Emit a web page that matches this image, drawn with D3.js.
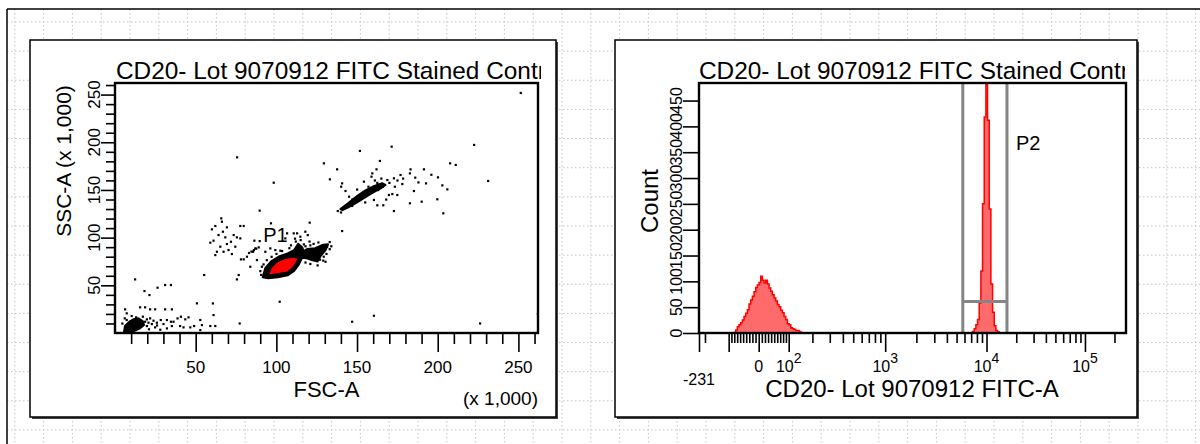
<!DOCTYPE html>
<html><head><meta charset="utf-8">
<script src="https://cdn.jsdelivr.net/npm/d3@7"></script>
<style>
body{margin:0;background:#fff;}
text{font-family:"Liberation Sans",Arial,sans-serif;fill:#000;}
</style>
</head><body>
<svg id="c" width="1200" height="444"></svg>
<script>
// ---------------- DATA ----------------
const chartTitle = "CD20- Lot 9070912 FITC Stained Control";
const fscLabel = "FSC-A";
const sscLabel = "SSC-A (x 1,000)";
const unitLabel = "(x 1,000)";
const fitcLabel = "CD20- Lot 9070912 FITC-A";
const countLabel = "Count";

// scatter (values in thousands)
const scatterMax = 262.144;
const scatterMajorTicks = [50, 100, 150, 200, 250];
const scatterMinorTicks = [10,20,30,40,60,70,80,90,110,120,130,140,160,170,180,190,210,220,230,240,260];
const scatterTickLabels = ["50", "100", "150", "200", "250"];

const sparseEvents = [
 [75.6,184.3],[98.3,157.7],[129.4,178],[137.6,171.7],[133.1,161.2],[151.7,191],[171.4,195.5],[164.1,180.5],
 [222.5,197.3],[207.6,178],[211.1,176.3],[231.2,159.5],[140.7,157],[140.1,153.5],[142.8,149],[154.2,158.8],
 [159.4,167.5],[162,171.7],[158.9,164],[168.7,160.5],[172.8,162.3],[176.9,165.8],[183.1,171.7],[182.7,167.5],
 [178,156.3],[173.4,153.5],[171.8,145.8],[169.7,144.8],[174.9,144.8],[185.2,149],[191.4,171.7],[192.7,157],
 [200.1,163.3],[202.8,154.9],[205.9,150.7],[199.7,140.3],[203.4,125.6],[190,137.8],[182.7,136.1],[172.8,128],
 [166.2,134],[162.5,134],[146.9,133.3],[143.8,131.9],[142.2,130.8],[160.4,139.6],[156.3,144.8],
 [163,150],[166,153.5],[170,157.5],[175,160],[178.5,162],[186,163],[188,158],[196,166],[150,150.5],[152,145],
 [147,140],[145,143],[161,160],[165,162],[155,137],[168,140],[138,128],[140,126.5],[157,153.5],[162.5,157.5],
 [65.8,120.3],[66.2,116.8],[62.1,112.3],[60,108.8],[69.3,110.9],[73.5,102.8],[77.6,112.3],[79.7,112.3],
 [75.5,100.4],[71.8,95.8],[69.3,93.4],[65.2,90.6],[63.1,85.3],[62.1,81.8],[67.2,85.3],[70.3,87.1],[72.4,82.9],
 [74.5,90.6],[77.6,99.3],[61,96.9],[64.1,102.8],[68.3,100.4],[66.8,106.3],[59,94.8],[55.2,60.9],[76.6,60.9],
 [75.5,56.3],[78,77.3],[79.7,77.3],[81.7,80.1],[85.5,85.3],[86.9,88.8],[89.6,96.5],[86.3,96.9],[89.6,128.4],
 [96.6,115.1],[102,32.9],[77.2,10.1],[60.6,31.1],[61,18.9],[140.7,107],[146.9,11.9],[160.4,18.2],[226.2,10.1],
 [83.8,69.6],[87.9,76.6],[91,69.6],[93.1,85.3],[96.2,88.8],[99.3,87.1],[102.4,86.4],[105.5,99.3],[110.7,104.6],
 [114.8,101.1],[119.4,102.8],[120.6,115.8],[117.9,106.3],[106.6,104.6],[112.8,104.6],[124.1,83.6],[129.3,80.1],
 [131.4,90.6],[130.4,74.8],[83,84],[84.5,85.5],[86,87],[87.5,88.5],[89,89.9],
 [118,91],[121,92],[126,95],[123,93.5],[128,84],[131,83],[133,88],[127,77],[124,78],[120,80.5],[117,93],
 [112,96],[109,92],[108,89],[103.5,86],[100,83],[97,80],[94,76.5],[92,72],[90,65],[90.5,61],[118,74],
 [121,72.5],[125.5,71],[129,76],[134,91],[133,95.5],[115,97.5],[120.5,96],[111.5,99],
 [12.4,56.3],[18.2,44.1],[21.3,39.9],[26.3,47.6],[31,50.4],[34.6,50.4],[15.5,27],[18.6,27],[21.7,24.9],
 [24.8,24.9],[31,24.9],[35.2,24.9],[6.2,24.9],[7.2,20.7],[13,16.5],[19.7,14.4],[21.7,15.4],[23.8,13],
 [25.9,10.9],[28.3,13.7],[32.1,13.7],[34.6,11.9],[38.7,15.4],[40.8,17.2],[43.5,14.4],[45.5,16.5],[50.7,31.2],
 [62.1,7.4],[52.8,13.7],[53.8,8.4],[59,7.4],[19.7,7.4],[22.8,9.5],[24.8,6],[30,9.5],[35.2,7.4],[40.3,7.4],
 [42.4,6],[18.6,11.9],[20.7,10.9],[17.2,17.2],[10.3,17.9],[7.2,13.7],[46.6,6],[32.1,4.9],[36.2,11.9],[49,7.4],
 [52.8,3.2],[4.5,10],[6,15.5],[21,4],[26,8],[28,3.5],[262,20],[251.4,251.8]
];

const denseDebris = [[5.6,1.4],[6.2,7.4],[8.9,11.9],[11.4,14.4],[14.5,15.4],[17.2,12.6],[18,8.4],[15.5,4.9],[12.4,2.5],[8.9,0.4]];
const denseUpper = [[139.7,130],[144.8,136.5],[150,143.5],[155.2,149.5],[160.4,154],[165.5,157],[167.6,155.3],
 [165,152],[160,147.5],[155.2,142.5],[150,137],[144.8,132],[141,128.8]];
const denseRing = [[91.5,58.4],[93.1,67.9],[97,75.5],[102,80.5],[107,83.5],[111,87],[113.5,93.5],[116,90],
 [117,85],[116,79],[114,72],[111,65],[107,60.5],[101,58.4],[95,57.4]];
const denseRight = [[114.8,83.6],[119,88],[124,89],[129,92.5],[132,93],[130.5,87],[127.5,81],[125.5,75],
 [122,76.5],[118.5,78.5],[115.5,79]];
const p1Gate = [[94.8,60.9],[96.2,67.9],[99.9,74.8],[105.5,79],[110.7,80.1],[114,79],[112.8,73.8],[110.3,67.9],
 [107,63.3],[102.4,61.9],[97.2,60.5]];
const p1Name = "P1";
const p1LabelAt = [91.9, 95.5];

// histogram
const fitcMin = -231, fitcMax = 262144;
const countMax = 484;
const fitcBins = 256;
const peak1Start = 21;
const peak1Counts = [1,6,12,16,20,25,32,38,45,56,64,71,80,88,93,98,110,102,97,102,95,87,81,74,68,62,55,51,44,39,32,26,18,16,10,8,7,5,5,3,1];
const peak2Start = 164;
const peak2Counts = [3,8,16,26,58,120,250,418,481,412,240,95,40,14,5,2];
const countTicks = [0,50,100,150,200,250,300,350,400,450];
const fitcMajorTicks = [0, 100, 1000, 10000, 100000];
const fitcLongTicks = [-231, -100];
const fitcMinorTicks = [-200,-90,-80,-70,-60,-50,-40,-30,-20,-10,10,20,30,40,50,60,70,80,90,
 200,300,400,500,600,700,800,900,2000,3000,4000,5000,6000,7000,8000,9000,
 20000,30000,40000,50000,60000,70000,80000,90000,200000];
const fitcLabelValues = [-231, 0, 100, 1000, 10000, 100000];
const fitcLabelBase = ["-231", "0", "10", "10", "10", "10"];
const fitcLabelExp = ["", "", "2", "3", "4", "5"];
const p2Range = [5770, 16100];
const p2Level = 61;
const p2Name = "P2";
const p2LabelAt = [19900, 355];

// ---------------- DRAW ----------------
const svg = d3.select("#c");

// worksheet grid
const grid = svg.append("g").attr("stroke", "#c4c4c4").attr("stroke-width", 1).attr("stroke-dasharray", "1.5,2.5");
grid.selectAll("line.h").data(d3.range(0, 15).map(i => 22 + i * 29.14)).join("line")
  .attr("x1", 7).attr("x2", 1200).attr("y1", d => d).attr("y2", d => d);
grid.selectAll("line.v").data(d3.range(0, 42).map(i => 14.8 + i * 28.8)).join("line")
  .attr("x1", d => d).attr("x2", d => d).attr("y1", 9).attr("y2", 444);
svg.append("line").attr("x1", 7).attr("x2", 1200).attr("y1", 9).attr("y2", 9).attr("stroke", "#000").attr("stroke-width", 1.5);
svg.append("line").attr("x1", 7).attr("x2", 7).attr("y1", 9).attr("y2", 444).attr("stroke", "#000").attr("stroke-width", 1.5);

// panels
[[30, 40, 526, 377], [615, 40, 522, 377]].forEach(p => {
  svg.append("rect").attr("x", p[0] + 2).attr("y", p[1] + 2).attr("width", p[2]).attr("height", p[3]).attr("fill", "#444");
  svg.append("rect").attr("x", p[0]).attr("y", p[1]).attr("width", p[2]).attr("height", p[3])
    .attr("fill", "#fff").attr("stroke", "#000").attr("stroke-width", 1.5);
});

// ===== Left scatter =====
const xS = d3.scaleLinear().domain([0, scatterMax]).range([115, 538]);
const yS = d3.scaleLinear().domain([0, scatterMax]).range([333, 83]);
const L = svg.append("g");

const clipL = svg.append("clipPath").attr("id", "clipL");
clipL.append("rect").attr("x", 30).attr("y", 40).attr("width", 511).attr("height", 60);
L.append("text").attr("x", 116).attr("y", 79).attr("font-size", 24.4).attr("clip-path", "url(#clipL)").text(chartTitle);

const pathS = d3.line().x(d => xS(d[0])).y(d => yS(d[1])).curve(d3.curveLinearClosed);
L.append("g").selectAll("rect").data(sparseEvents).join("rect")
  .attr("x", d => xS(d[0]) - 1).attr("y", d => yS(d[1]) - 1).attr("width", 2.2).attr("height", 2.2).attr("fill", "#000");
L.selectAll("path.cl").data([denseDebris, denseUpper, denseRing, denseRight]).join("path").attr("class", "cl")
  .attr("d", pathS).attr("fill", "#000").attr("stroke", "#000").attr("stroke-width", 2).attr("stroke-linejoin", "round");
L.append("path").attr("d", pathS(p1Gate)).attr("fill", "#ff0000").attr("stroke", "#000").attr("stroke-width", 2.5);
L.append("text").attr("x", xS(p1LabelAt[0])).attr("y", yS(p1LabelAt[1])).attr("font-size", 20).text(p1Name);

L.append("rect").attr("x", 115).attr("y", 83).attr("width", 423).attr("height", 250)
  .attr("fill", "none").attr("stroke", "#000").attr("stroke-width", 2.4);

function styleAxis(g) { g.select(".domain").remove(); g.selectAll(".tick line").attr("stroke", "#000").attr("stroke-width", 1.6); }
L.append("g").attr("transform", "translate(0,333)")
  .call(d3.axisBottom(xS).tickValues(scatterMinorTicks).tickSize(11).tickFormat("")).call(styleAxis);
L.append("g").attr("transform", "translate(0,333)")
  .call(d3.axisBottom(xS).tickValues(scatterMajorTicks).tickSize(19).tickFormat("")).call(styleAxis);
L.append("g").attr("transform", "translate(115,0)")
  .call(d3.axisLeft(yS).tickValues(scatterMinorTicks).tickSize(9).tickFormat("")).call(styleAxis);
L.append("g").attr("transform", "translate(115,0)")
  .call(d3.axisLeft(yS).tickValues(scatterMajorTicks).tickSize(14).tickFormat("")).call(styleAxis);

L.selectAll("text.xl").data(scatterMajorTicks).join("text").attr("class", "xl")
  .attr("x", d => xS(d)).attr("y", 373).attr("text-anchor", "middle").attr("font-size", 17)
  .text((d, i) => scatterTickLabels[i]);
L.selectAll("text.yl").data(scatterMajorTicks).join("text").attr("class", "yl")
  .attr("x", 100).attr("y", d => yS(d)).attr("transform", d => `rotate(-90,100,${yS(d)})`)
  .attr("text-anchor", "middle").attr("font-size", 17).text((d, i) => scatterTickLabels[i]);
L.append("text").attr("x", 326.5).attr("y", 397).attr("text-anchor", "middle").attr("font-size", 22).text(fscLabel);
L.append("text").attr("x", 538).attr("y", 405).attr("text-anchor", "end").attr("font-size", 19).text(unitLabel);
L.append("text").attr("x", 71).attr("y", 161).attr("transform", "rotate(-90,71,161)")
  .attr("text-anchor", "middle").attr("font-size", 21).text(sscLabel);

// ===== Right histogram =====
const LK = 46.8, LP = 1.89;
function biex(v) {
  const a = Math.abs(v);
  let lo = 0, hi = 25;
  for (let i = 0; i < 70; i++) {
    const m = (lo + hi) / 2;
    const g = LK * (Math.exp(m) - LP * LP * Math.exp(-m / LP) + LP * LP - 1);
    if (g < a) lo = m; else hi = m;
  }
  return Math.sign(v) * (lo + hi) / 2;
}
const xT = d3.scaleLinear().domain([biex(fitcMin), biex(fitcMax)]).range([699, 1126]);
const xF = v => xT(biex(v));
const binT = d3.scaleLinear().domain([0, fitcBins]).range([biex(fitcMin), biex(fitcMax)]);
const yC = d3.scaleLinear().domain([0, countMax]).range([333, 83]);
const R = svg.append("g");

const clipR = svg.append("clipPath").attr("id", "clipR");
clipR.append("rect").attr("x", 615).attr("y", 40).attr("width", 510).attr("height", 60);
R.append("text").attr("x", 699).attr("y", 79).attr("font-size", 24.4).attr("clip-path", "url(#clipR)").text(chartTitle);

const histArea = d3.area().x(d => xT(binT(d[0]))).y0(yC(0)).y1(d => yC(d[1])).curve(d3.curveStepAfter);
function peakPts(start, counts) {
  const pts = [[start, 0]];
  counts.forEach((c, i) => pts.push([start + i, c]));
  pts.push([start + counts.length, 0]);
  return pts;
}
R.selectAll("path.pk").data([peakPts(peak1Start, peak1Counts), peakPts(peak2Start, peak2Counts)]).join("path")
  .attr("class", "pk").attr("d", histArea).attr("fill", "#ff6a6a").attr("stroke", "#ff0000").attr("stroke-width", 1.5);

// gate P2
const gate = R.append("g").attr("stroke", "#858585").attr("stroke-width", 3).attr("fill", "none");
p2Range.forEach(v => gate.append("line").attr("x1", xF(v)).attr("x2", xF(v)).attr("y1", yC(countMax)).attr("y2", yC(0)));
gate.append("line").attr("x1", xF(p2Range[0])).attr("x2", xF(p2Range[1])).attr("y1", yC(p2Level)).attr("y2", yC(p2Level));
R.append("text").attr("x", xF(p2LabelAt[0])).attr("y", yC(p2LabelAt[1])).attr("font-size", 20).text(p2Name);

R.append("rect").attr("x", 699).attr("y", 83).attr("width", 427).attr("height", 250)
  .attr("fill", "none").attr("stroke", "#000").attr("stroke-width", 2.4);

const fitcMinorT = fitcMinorTicks.map(biex), fitcMajorT = fitcMajorTicks.concat(fitcLongTicks).map(biex);
R.append("g").attr("transform", "translate(0,333)")
  .call(d3.axisBottom(xT).tickValues(fitcMinorT).tickSize(10).tickFormat("")).call(styleAxis);
R.append("g").attr("transform", "translate(0,333)")
  .call(d3.axisBottom(xT).tickValues(fitcMajorT).tickSize(19).tickFormat("")).call(styleAxis);
R.append("g").attr("transform", "translate(699,0)")
  .call(d3.axisLeft(yC).tickValues(countTicks).tickSize(16).tickFormat("")).call(styleAxis);

R.selectAll("text.yl").data(countTicks).join("text").attr("class", "yl")
  .attr("x", 682).attr("y", d => yC(d)).attr("transform", d => `rotate(-90,682,${yC(d)})`)
  .attr("text-anchor", "middle").attr("font-size", 16).text(d => d);

const fl = R.selectAll("text.xl").data(fitcLabelValues).join("text").attr("class", "xl")
  .attr("x", d => xF(d)).attr("y", d => d < 0 ? 385 : 372).attr("text-anchor", "middle").attr("font-size", 16);
fl.append("tspan").text((d, i) => fitcLabelBase[i]);
fl.filter((d, i) => fitcLabelExp[i] !== "").append("tspan").attr("dy", -9).attr("font-size", 14)
  .text(d => fitcLabelExp[fitcLabelValues.indexOf(d)]);

R.append("text").attr("x", 912).attr("y", 397).attr("text-anchor", "middle").attr("font-size", 24).text(fitcLabel);
R.append("text").attr("x", 658).attr("y", 201).attr("transform", "rotate(-90,658,201)")
  .attr("text-anchor", "middle").attr("font-size", 24).text(countLabel);
</script>
</body></html>
